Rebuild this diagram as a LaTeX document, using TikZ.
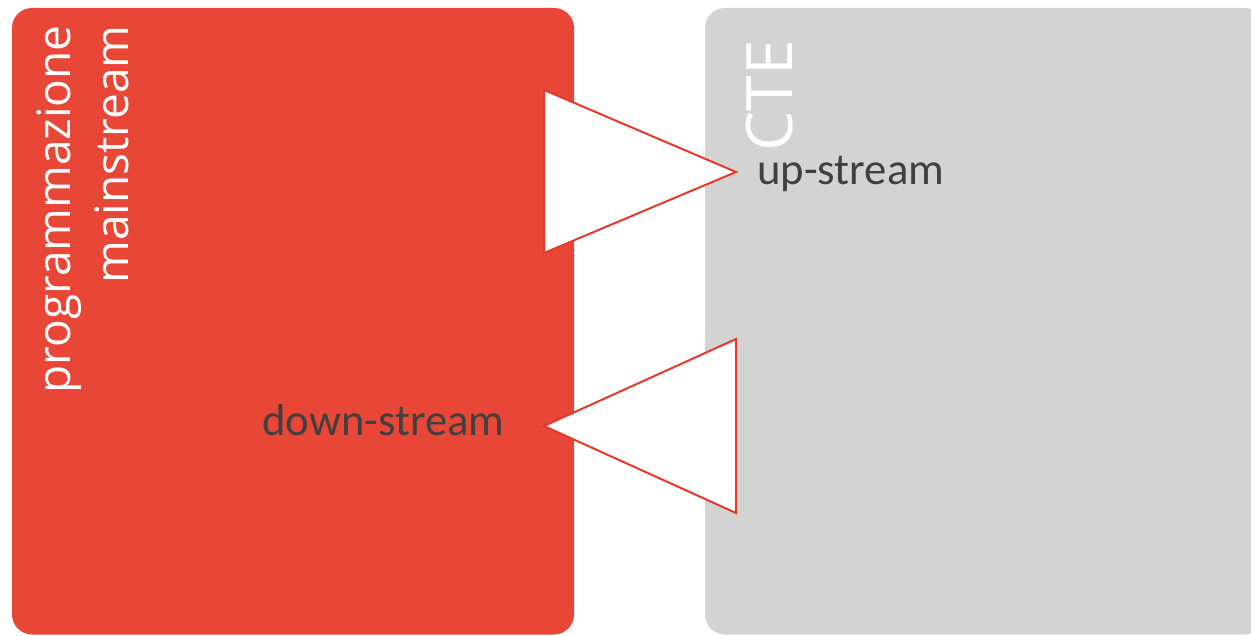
\documentclass[tikz,border=0pt]{standalone}
\usepackage{fontspec}
\setmainfont{Open Sans}
\newfontfamily\calibrifont{Carlito}
\definecolor{boxred}{RGB}{232,71,56}
\definecolor{boxgrey}{RGB}{211,211,211}
\definecolor{trired}{RGB}{229,58,43}
\definecolor{labeldark}{RGB}{64,64,64}
\tikzset{
  panel/.style={rounded corners=20pt},
  vtitle/.style={rotate=90, anchor=base east, inner sep=0pt, text=white, font=\fontsize{46}{55}\selectfont},
  label/.style={anchor=base west, inner sep=0pt, text=labeldark, font=\calibrifont\fontsize{44.7}{53}\selectfont},
  arrowtri/.style={draw=trired, fill=white, line width=2pt, line join=miter}
}
\begin{document}
\begin{tikzpicture}[x=1pt,y=1pt]
\useasboundingbox (0,0) rectangle (1251,635);
\clip (0,0) rectangle (1251,635);
% panels
\fill[boxred, panel] (12,0.5) rectangle (574,627);
\fill[boxgrey, panel] (705,0.5) rectangle (1265,627);
% triangles
\coordinate (t1a) at (544,545);
\coordinate (t1b) at (544,382);
\coordinate (t1c) at (736,463);
\coordinate (t2a) at (736,296);
\coordinate (t2b) at (736,122);
\coordinate (t2c) at (544,209);
\draw[arrowtri] (t1a) -- (t1c) -- (t1b) -- cycle;
\draw[arrowtri] (t2a) -- (t2c) -- (t2b) -- cycle;
% texts
\node[vtitle] (prog) at (70,610) {programmazione};
\node[vtitle] (main) at (128,610) {mainstream};
\node[vtitle, font=\fontsize{64}{70}\selectfont] (cte) at (792,595) {CTE};
\node[label] (up) at (757,450) {up-stream};
\node[label] (down) at (262,199) {down-stream};
\end{tikzpicture}
\end{document}
